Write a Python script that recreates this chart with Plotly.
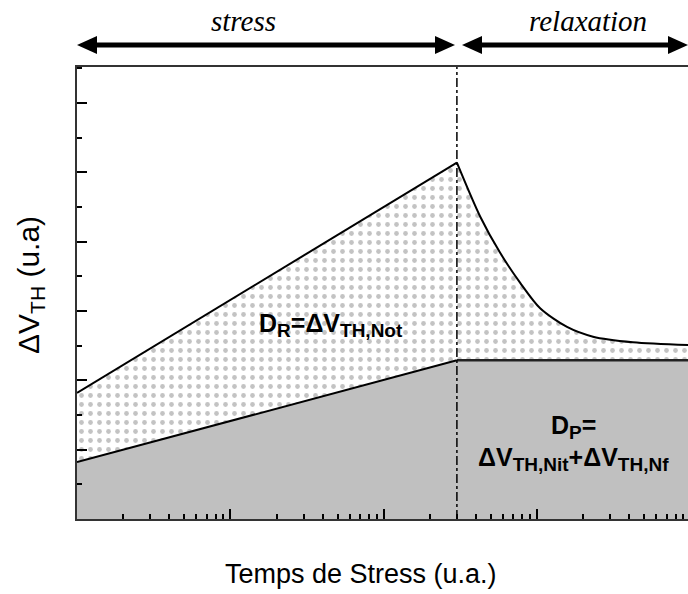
import plotly.graph_objects as go

# ---- data ----
t_stress = [1, 300]
dvth_total_stress = [1.82, 5.14]
dvth_perm_stress = [0.82, 2.29]

t_relax = [300, 426, 574, 774, 1047, 1567, 2315, 4217, 9640]
dvth_total_relax = [5.14, 4.36, 3.84, 3.41, 3.04, 2.77, 2.63, 2.55, 2.51]
t_perm_relax = [300, 9640]
dvth_perm_relax = [2.29, 2.29]

t_boundary = [300, 300]
y_boundary = [0, 6.52]

# ---- layout geometry (pixels) ----
W, H = 688, 594
L, R, T, B = 77, 0, 67, 75
PW, PH = W - L - R, H - T - B


def px(x):
    return (x - L) / PW


def py(y):
    return (H - B - y) / PH


GRAY = "#c0c0c0"
pattern = dict(shape=".", fgcolor="#888888", bgcolor="white", size=9, solidity=0.22)

fig = go.Figure()
# stress phase
fig.add_trace(go.Scatter(x=t_stress, y=dvth_perm_stress, mode="lines",
                         line=dict(color="black", width=2), fill="tozeroy",
                         fillcolor=GRAY, hoverinfo="skip"))
fig.add_trace(go.Scatter(x=t_stress, y=dvth_total_stress, mode="lines",
                         line=dict(color="black", width=2), fill="tonexty",
                         fillcolor="white", fillpattern=pattern, hoverinfo="skip"))
# relaxation phase
fig.add_trace(go.Scatter(x=t_perm_relax, y=dvth_perm_relax, mode="lines",
                         line=dict(color="#222", width=2.5), fill="tozeroy",
                         fillcolor=GRAY, hoverinfo="skip"))
fig.add_trace(go.Scatter(x=t_relax, y=dvth_total_relax, mode="lines",
                         line=dict(color="black", width=2, shape="spline", smoothing=0.8),
                         fill="tonexty", fillcolor="white", fillpattern=pattern,
                         hoverinfo="skip"))
# boundary stress / relaxation
fig.add_trace(go.Scatter(x=t_boundary, y=y_boundary, mode="lines",
                         line=dict(color="black", width=1.5, dash="dashdot"),
                         hoverinfo="skip"))

# ---- arrows on top ----
shapes = []
ay = 45
hl, hh = 20, 9


def arrow(x0, x1):
    shapes.append(dict(type="line", xref="paper", yref="paper",
                       x0=px(x0 + hl - 2), x1=px(x1 - hl + 2), y0=py(ay), y1=py(ay),
                       line=dict(color="black", width=5)))
    shapes.append(dict(type="path", xref="paper", yref="paper",
                       path=f"M {px(x0)} {py(ay)} L {px(x0 + hl)} {py(ay - hh)} L {px(x0 + hl)} {py(ay + hh)} Z",
                       fillcolor="black", line=dict(width=0)))
    shapes.append(dict(type="path", xref="paper", yref="paper",
                       path=f"M {px(x1)} {py(ay)} L {px(x1 - hl)} {py(ay - hh)} L {px(x1 - hl)} {py(ay + hh)} Z",
                       fillcolor="black", line=dict(width=0)))


arrow(77, 455)
arrow(462, 688)

serif = "Liberation Serif"
sans = "Liberation Sans"


def label(text, x, y, size, family=sans, angle=0, xanchor="center"):
    return dict(text=text, x=px(x), y=py(y), xref="paper", yref="paper",
                xanchor=xanchor, yanchor="middle", showarrow=False, textangle=angle,
                font=dict(family=family, size=size, color="black"))


def sub(s, size=19):
    return f"<sub><span style='font-size:{size}px'>{s}</span></sub>"


annotations = [
    label("<i>stress</i>", 243, 21, 29, serif),
    label("<i>relaxation</i>", 588, 21, 29, serif),
    label(f"<b>D{sub('R')}=ΔV{sub('TH,Not')}</b>", 331, 325, 25),
    label(f"<b>D{sub('P')}=</b>", 573, 427, 25),
    label(f"<b>ΔV{sub('TH,Nit')}+ΔV{sub('TH,Nf')}</b>", 573, 459, 25),
    label("ΔV<sub>TH</sub> (u.a)", 30, 285, 30, angle=-90),
    label("Temps de Stress (u.a.)", 223, 574, 27, xanchor="left"),
]

fig.update_layout(
    width=W, height=H,
    margin=dict(l=L, r=R, t=T, b=B, pad=0),
    paper_bgcolor="white", plot_bgcolor="white",
    showlegend=False,
    shapes=shapes, annotations=annotations,
    xaxis=dict(type="log", range=[0, 3.984], showline=True, linecolor="#333",
               linewidth=2, mirror=True, ticks="inside", ticklen=10, tickwidth=1.5,
               tickcolor="black", dtick=1, showticklabels=False, showgrid=False,
               zeroline=False,
               minor=dict(ticks="inside", ticklen=5, tickwidth=1.5, tickcolor="black",
                          dtick="D1", showgrid=False)),
    yaxis=dict(range=[0, 6.52], showline=True, linecolor="#333", linewidth=2,
               ticks="inside", ticklen=10, tickwidth=1.5, tickcolor="black",
               tick0=0, dtick=1, showticklabels=False, showgrid=False, zeroline=False,
               minor=dict(ticks="inside", ticklen=5, tickwidth=1.5, tickcolor="black",
                          dtick=0.5, showgrid=False)),
)

fig.write_html("out.html", config={"displayModeBar": False},
               post_script="document.body.style.margin='0';document.body.style.overflow='hidden';")
